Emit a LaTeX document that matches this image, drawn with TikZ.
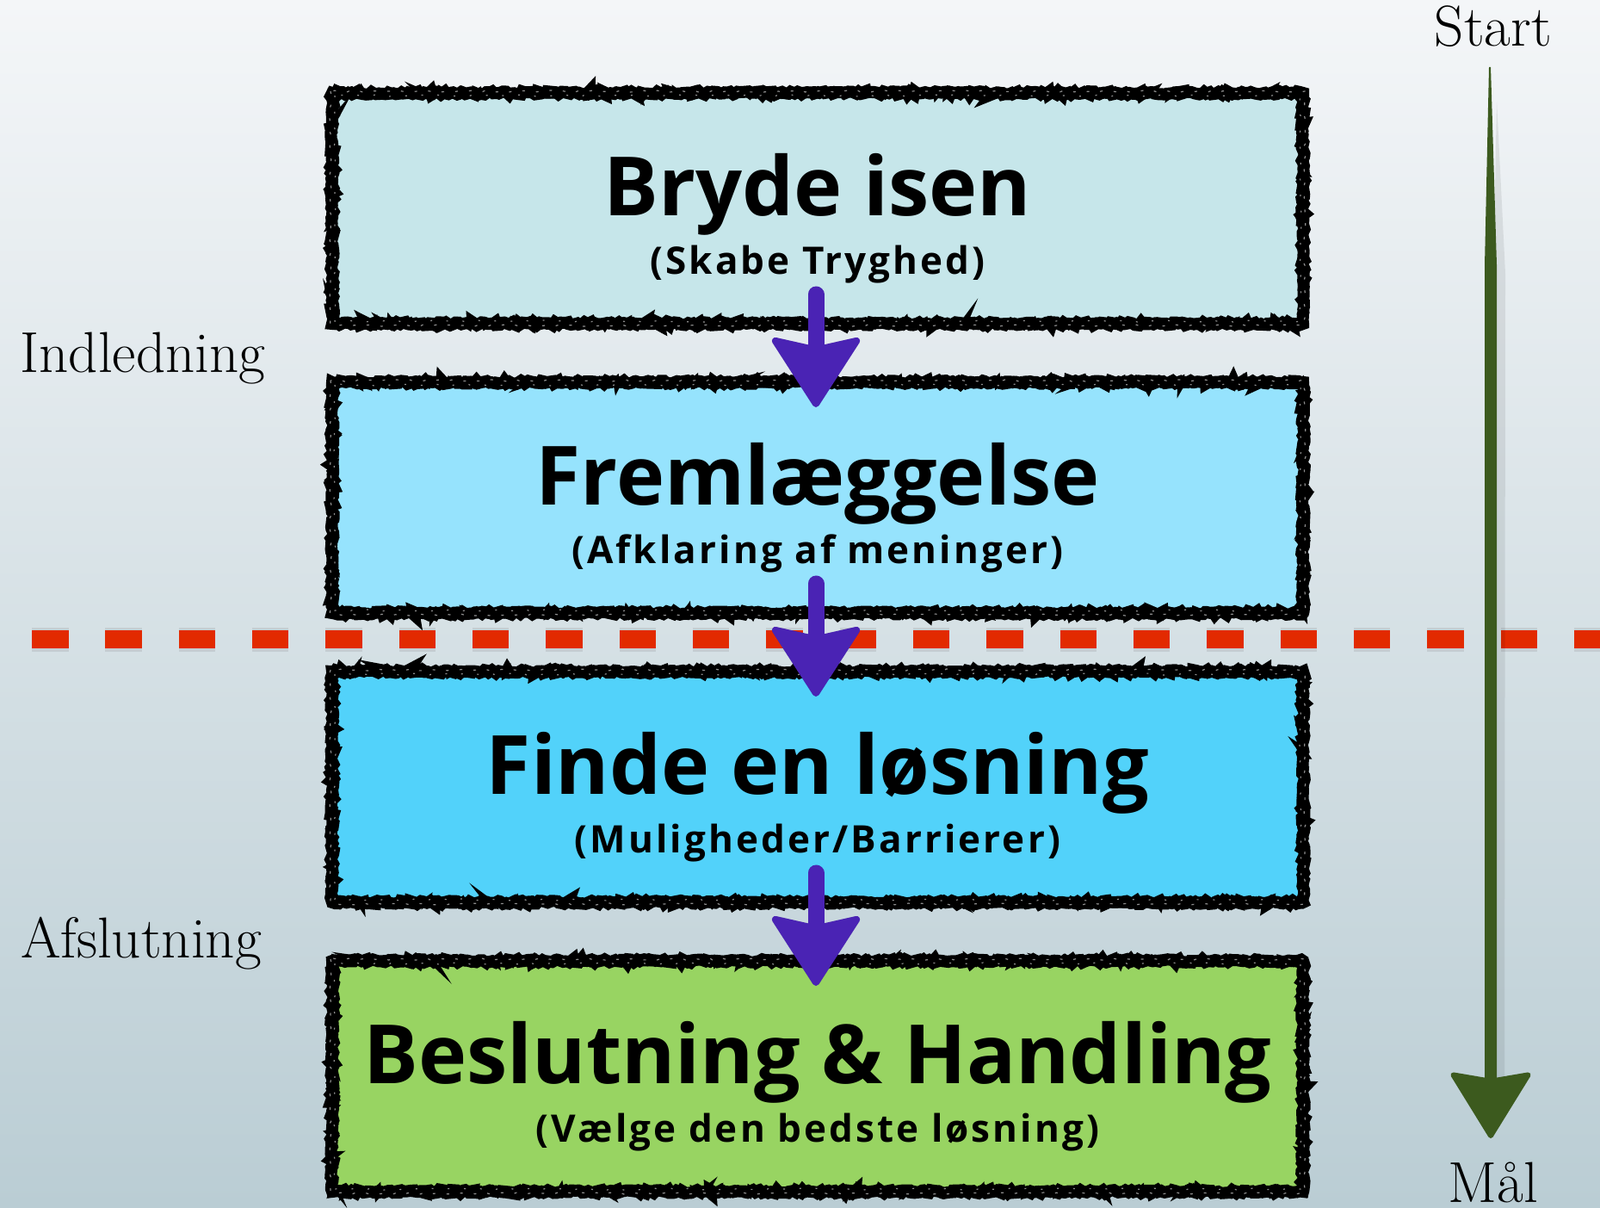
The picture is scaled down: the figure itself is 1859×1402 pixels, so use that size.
\documentclass[tikz,border=0pt]{standalone}
\usepackage{fontspec}
\newfontfamily\titlefont{Open Sans}
\newfontfamily\subfont{Open Sans}[LetterSpace=7]
\usetikzlibrary{arrows.meta,decorations.pathmorphing,calc}
\definecolor{bgtop}{RGB}{244,246,248}
\definecolor{bgmid}{RGB}{211,223,228}
\definecolor{bgbot}{RGB}{186,205,212}
\definecolor{boxA}{RGB}{198,230,234}
\definecolor{boxB}{RGB}{150,227,253}
\definecolor{boxC}{RGB}{82,210,250}
\definecolor{boxD}{RGB}{152,212,98}
\definecolor{arrowpurple}{RGB}{74,35,180}
\definecolor{arrowgreen}{RGB}{60,90,30}
\definecolor{dashred}{RGB}{226,42,0}
\tikzset{
 stagebox/.style={minimum width=1128pt, minimum height=268pt, inner sep=0pt, outer sep=0pt},
 roughA/.style={draw=black, line width=14pt, decorate, decoration={random steps, segment length=3pt, amplitude=1.8pt}},
 roughB/.style={draw=black, line width=8pt, decorate, decoration={random steps, segment length=4pt, amplitude=3pt}},
 speckle/.style={draw=white, opacity=0.55, line width=1.2pt, dash pattern=on 3pt off 13pt, decorate, decoration={random steps, segment length=4pt, amplitude=1pt}},
 titletext/.style={font=\titlefont\bfseries\fontsize{95}{100}\selectfont, inner sep=0pt, anchor=base},
 subtext/.style={font=\subfont\bfseries\fontsize{44}{48}\selectfont, inner sep=0pt, anchor=base},
 handtext/.style={font=\fontsize{67}{72}\selectfont, inner sep=0pt, anchor=base},
 flowarrow/.style={draw=arrowpurple, line width=19pt, line cap=round, -{Stealth[length=86pt, width=110pt, inset=12pt, round, line width=8pt]}},
 flowshadow/.style={draw=black, line width=19pt, line cap=round, -{Stealth[length=86pt, width=110pt, inset=12pt, round, line width=8pt]}},
 reddash/.style={draw=dashred, line width=21pt, dash pattern=on 42.5pt off 42.83pt},
 greenhead/.style={draw=arrowgreen, line width=14pt, -{Stealth[length=80pt, width=98pt, inset=8pt, round, line width=6pt]}},
}
\begin{document}
\begin{tikzpicture}[x=1pt,y=-1pt]
\useasboundingbox (0,0) rectangle (1859,1402);
\clip (0,0) rectangle (1859,1402);
% background
\shade[top color=bgtop, middle color=bgmid, bottom color=bgbot] (0,0) rectangle (1859,1402);

% stage boxes
\node[stagebox, fill=boxA] (s1) at (950,242) {};
\node[stagebox, fill=boxB] (s2) at (950,578) {};
\node[stagebox, fill=boxC] (s3) at (950,914) {};
\node[stagebox, fill=boxD] (s4) at (950,1250) {};
\foreach \b in {s1,s2,s3,s4}{
  \draw[roughA] (\b.north west) rectangle (\b.south east);
  \draw[roughB] (\b.north west) rectangle (\b.south east);
  \draw[speckle] ($(\b.north west)+(-2,-2)$) rectangle ($(\b.south east)+(2,2)$);
  \draw[speckle, dash pattern=on 2pt off 17pt] ($(\b.north west)+(3,3)$) rectangle ($(\b.south east)+(-3,-3)$);
}

% texts
\node[titletext] (t1) at (950,250) {Bryde isen};
\node[subtext] (u1) at (950,318) {(Skabe Tryghed)};
\node[titletext] (t2) at (950,586) {Fremlæggelse};
\node[subtext] (u2) at (950,654) {(Afklaring af meninger)};
\node[titletext] (t3) at (950,922) {Finde en løsning};
\node[subtext] (u3) at (950,990) {(Muligheder/Barrierer)};
\node[titletext] (t4) at (950,1258) {Beslutning \& Handling};
\node[subtext] (u4) at (950,1326) {(Vælge den bedste løsning)};

% dashed divider
\coordinate (dl) at (37,742.5);
\coordinate (dr) at (1900,742.5);
\begin{scope}[shift={(8,12)}, opacity=0.08]
\draw[reddash, draw=black, line width=28pt] (dl) -- (dr);
\end{scope}
\draw[reddash] (dl) -- (dr);

% purple flow arrows
\foreach \a/\b in {s1/s2,s2/s3,s3/s4}{
  \begin{scope}[shift={(7,7)}, opacity=0.12]
  \draw[flowshadow] ($(\a.south)+(-2,-34)$) -- ($(\b.north)+(-2,29)$);
  \end{scope}
  \draw[flowarrow] ($(\a.south)+(-2,-34)$) -- ($(\b.north)+(-2,29)$);
}

% side labels
\node[handtext] (intro) at (166,432) {Indledning};
\node[handtext] (outro) at (164,1112) {Afslutning};
\node[handtext] (start) at (1735,54) {Start};
\node[handtext] (goal) at (1735,1396) {Mål};

% green progress arrow
\coordinate (gtop) at ($(start.base)+(-4,24)$);
\coordinate (gtip) at ($(goal.base)+(-3,-74)$);
\fill[black, opacity=0.08] ($(gtop)+(8,40)$) -- ($(gtop)+(18,240)$) -- ($(gtip)+(16,-70)$) -- ($(gtip)+(2,-70)$) -- ($(gtop)+(4,240)$) -- cycle;
\fill[arrowgreen] ($(gtop)+(-1,0)$) -- ($(gtop)+(1,0)$) -- ($(gtop)+(8,230)$) -- ($(gtip)+(7,-70)$) -- ($(gtip)+(-7,-70)$) -- ($(gtop)+(-6,230)$) -- cycle;
\draw[greenhead] ($(gtip)+(0,-72)$) -- (gtip);
\end{tikzpicture}
\end{document}
